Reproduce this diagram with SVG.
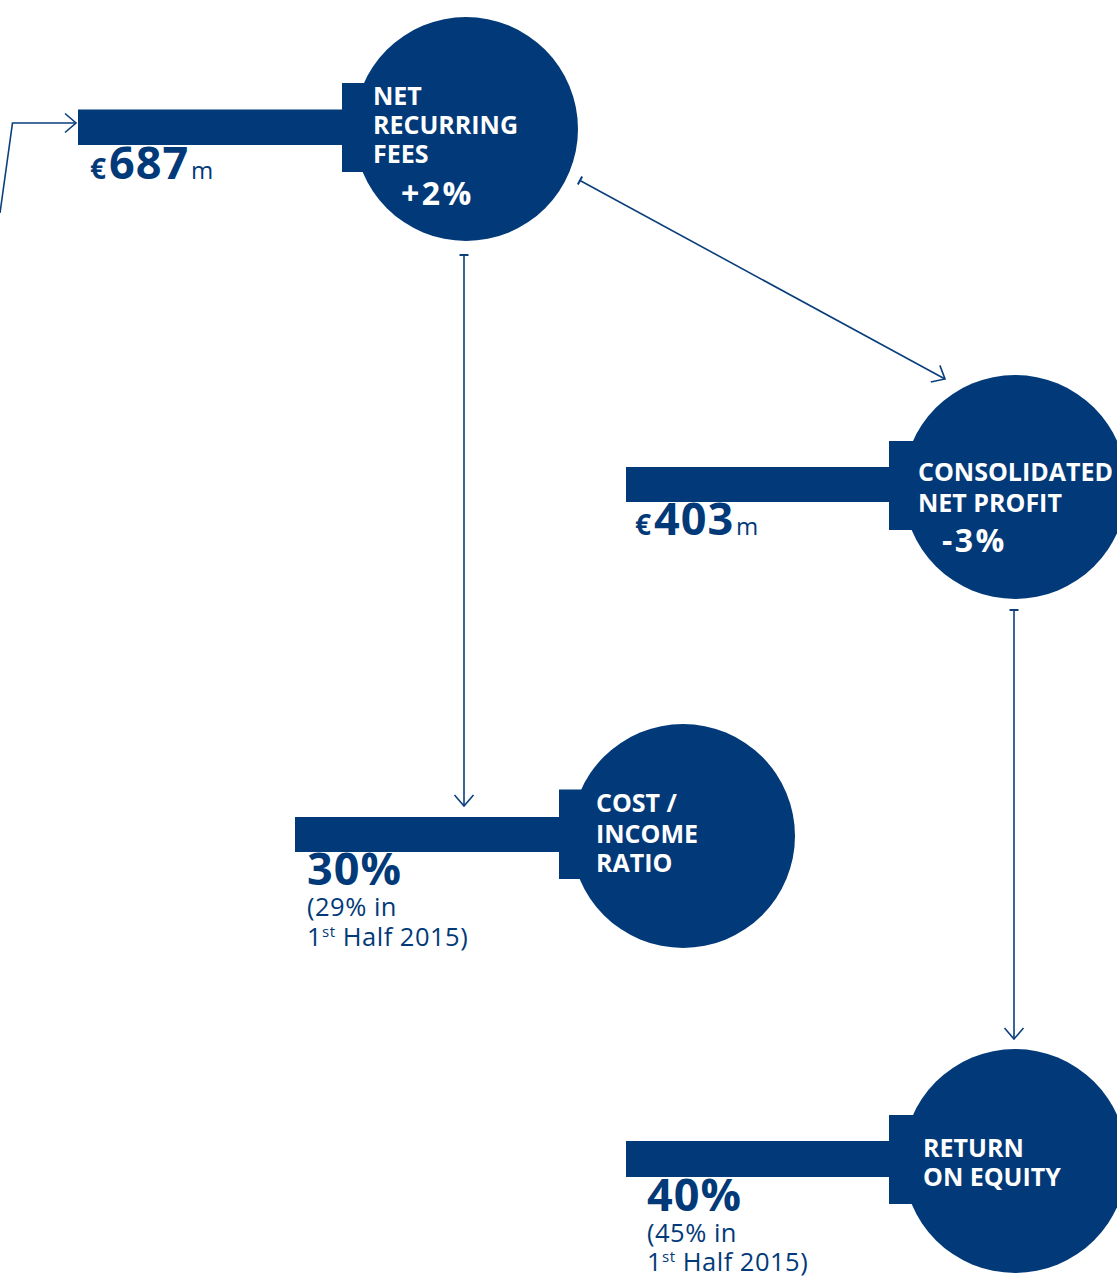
<svg xmlns="http://www.w3.org/2000/svg" width="1117" height="1279" viewBox="0 0 1117 1279">
<style>
  .shape { fill: #023a79; }
  .lbl { font-family: "Open Sans", "Liberation Sans", sans-serif; font-weight: 700; font-size: 25px; fill: #ffffff; }
  .chg { font-family: "Open Sans", "Liberation Sans", sans-serif; font-weight: 700; font-size: 32px; fill: #ffffff; letter-spacing: 2.5px; }
  .big { font-family: "Open Sans", "Liberation Sans", sans-serif; font-weight: 700; font-size: 45px; fill: #023a79; letter-spacing: 1px; }
  .cur { font-family: "Open Sans", "Liberation Sans", sans-serif; font-weight: 700; font-size: 28px; fill: #023a79; }
  .unit { font-family: "Open Sans", "Liberation Sans", sans-serif; font-weight: 400; font-size: 24px; fill: #023a79; }
  .sub { font-family: "Open Sans", "Liberation Sans", sans-serif; font-weight: 400; font-size: 25.5px; fill: #023a79; letter-spacing: 0.5px; }
  .conn { fill: none; stroke: #0a3f7c; stroke-width: 1.6; }
</style>
<defs>
  <marker id="arrow" viewBox="-13 -11 15 22" refX="0" refY="0" markerWidth="15" markerHeight="22" markerUnits="userSpaceOnUse" orient="auto">
    <path d="M-11,-9.5 L0,0 L-11,9.5" fill="none" stroke="#0a3f7c" stroke-width="1.6"/>
  </marker>
  <marker id="tick" viewBox="-2 -6 4 12" refX="0" refY="0" markerWidth="4" markerHeight="12" markerUnits="userSpaceOnUse" orient="auto">
    <path d="M0,-4.5 L0,4.5" fill="none" stroke="#0a3f7c" stroke-width="2"/>
  </marker>
</defs>

<g id="connectors">
  <polyline class="conn" points="0,213 12.5,123 76,123" marker-end="url(#arrow)"/>
  <line class="conn" x1="580" y1="180.5" x2="945" y2="379" marker-start="url(#tick)" marker-end="url(#arrow)"/>
  <line class="conn" x1="464" y1="255" x2="464" y2="806" marker-start="url(#tick)" marker-end="url(#arrow)"/>
  <line class="conn" x1="1014" y1="610" x2="1014" y2="1039" marker-start="url(#tick)" marker-end="url(#arrow)"/>
</g>

<g id="node-net-recurring-fees">
  <rect class="shape" x="78" y="109.5" width="270" height="35.5"/>
  <rect class="shape" x="342" y="83" width="40" height="89"/>
  <circle class="shape" cx="466" cy="129" r="112"/>
  <text class="lbl" x="373" y="105">NET</text>
  <text class="lbl" x="373" y="134">RECURRING</text>
  <text class="lbl" x="373" y="163">FEES</text>
  <text class="chg" x="401" y="205">+2%</text>
  <text class="cur" x="90" y="179">€</text>
  <text class="big" x="109" y="179">687</text>
  <text class="unit" x="191" y="179">m</text>
</g>

<g id="node-consolidated-net-profit">
  <rect class="shape" x="626" y="467" width="270" height="35"/>
  <rect class="shape" x="889" y="441" width="40" height="89"/>
  <circle class="shape" cx="1015" cy="487" r="112"/>
  <text class="lbl" x="918" y="481">CONSOLIDATED</text>
  <text class="lbl" x="918" y="512">NET PROFIT</text>
  <text class="chg" x="942" y="552">-3%</text>
  <text class="cur" x="635" y="535">€</text>
  <text class="big" x="654" y="535">403</text>
  <text class="unit" x="736" y="535">m</text>
</g>

<g id="node-cost-income-ratio">
  <rect class="shape" x="295" y="817" width="270" height="35"/>
  <rect class="shape" x="559" y="789.5" width="40" height="89.5"/>
  <circle class="shape" cx="683" cy="836" r="112"/>
  <text class="lbl" x="596" y="812">COST /</text>
  <text class="lbl" x="596" y="843">INCOME</text>
  <text class="lbl" x="596" y="872">RATIO</text>
  <text class="big" x="307" y="885">30%</text>
  <text class="sub" x="307" y="916">(29% in</text>
  <text class="sub" x="307" y="946">1<tspan font-size="15" dy="-9">st</tspan><tspan dy="9"> Half 2015)</tspan></text>
</g>

<g id="node-return-on-equity">
  <rect class="shape" x="626" y="1141" width="270" height="36"/>
  <rect class="shape" x="889" y="1115" width="40" height="89"/>
  <circle class="shape" cx="1015" cy="1161" r="112"/>
  <text class="lbl" x="923" y="1157">RETURN</text>
  <text class="lbl" x="923" y="1186">ON EQUITY</text>
  <text class="big" x="647" y="1211">40%</text>
  <text class="sub" x="647" y="1242">(45% in</text>
  <text class="sub" x="647" y="1271">1<tspan font-size="15" dy="-9">st</tspan><tspan dy="9"> Half 2015)</tspan></text>
</g>
</svg>
